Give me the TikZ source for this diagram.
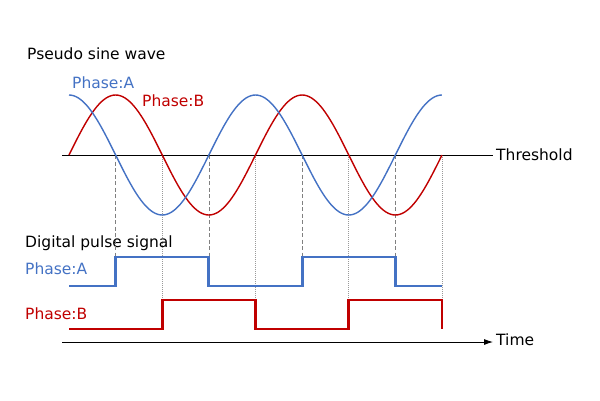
\documentclass[tikz,border=0pt]{standalone}
\usepackage{fontspec}
\setmainfont{DejaVu Sans}
\usetikzlibrary{arrows.meta}

\definecolor{phasea}{HTML}{4472C4}
\definecolor{phaseb}{HTML}{C00000}

\tikzset{
  lbl/.style={anchor=west,inner sep=0pt,font=\fontsize{15.5bp}{17bp}\selectfont},
  wave/.style={line width=1.4bp,line join=round},
  pulse/.style={line width=2.8bp,line join=miter},
  guidea/.style={gray,line width=0.6bp,dash pattern=on 4bp off 2.5bp},
  guideb/.style={gray!80,line width=0.6bp,dash pattern=on 1bp off 1bp},
}

\begin{document}
\begin{tikzpicture}[x=1bp,y=-1bp,>=latex]
\useasboundingbox (0,0) rectangle (600,400);
%%
\node (title_sine) at (27,54) [lbl] {Pseudo sine wave};
\node (title_pulse) at (25,243) [lbl] {Digital pulse signal};
\node (label_wa) at (72,83) [lbl,text=phasea] {Phase:A};
\node (label_wb) at (142,101) [lbl,text=phaseb] {Phase:B};
\node (label_pa) at (25,269) [lbl,text=phasea] {Phase:A};
\node (label_pb) at (25,314) [lbl,text=phaseb] {Phase:B};
\coordinate (thr_start) at (62,155);
\node (thr_end) at (493,155) [inner sep=0pt] {};
\node (label_thr) at (496,155) [lbl] {Threshold};
\coordinate (time_start) at (62,342);
\node (time_end) at (493,342) [inner sep=0pt] {};
\node (label_time) at (496,340) [lbl] {Time};
%% crossing points of the two waves
\foreach \k in {0,...,8}
  \coordinate (cross_\k) at ({69+\k*46.625},155);
%% guide lines
\foreach \k in {1,3,5,7}
  \draw [guidea] (cross_\k) -- ++(0,102);
\foreach \k in {2,4,6,8}
  \draw [guideb] (cross_\k) -- ++(0,145);
\draw [black,line width=0.8bp] (thr_start) -- (thr_end.center);
\draw [black,line width=0.8bp,-{Latex[length=9bp,width=6bp]}] (time_start) -- (time_end.center);
%% waves
\draw [wave,phaseb] plot [domain=0:8,samples=161,smooth] ({69+\x*46.625},{155-60*sin(\x*90)});
\draw [wave,phasea] plot [domain=0:8,samples=161,smooth] ({69+\x*46.625},{155-60*cos(\x*90)});
%% pulses
\draw [pulse,phasea] (cross_0 |- 0,286) -- (cross_1 |- 0,286) -- (cross_1 |- 0,257)
  -- (cross_3 |- 0,257) -- (cross_3 |- 0,286) -- (cross_5 |- 0,286) -- (cross_5 |- 0,257)
  -- (cross_7 |- 0,257) -- (cross_7 |- 0,286) -- (cross_8 |- 0,286);
\draw [pulse,phaseb] (cross_0 |- 0,329) -- (cross_2 |- 0,329) -- (cross_2 |- 0,300)
  -- (cross_4 |- 0,300) -- (cross_4 |- 0,329) -- (cross_6 |- 0,329) -- (cross_6 |- 0,300)
  -- (cross_8 |- 0,300) -- (cross_8 |- 0,329);
%
\end{tikzpicture}
\end{document}
